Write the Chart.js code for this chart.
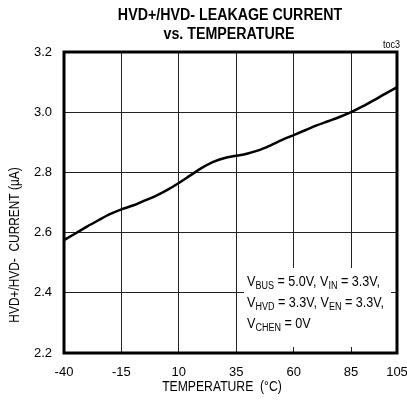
<!DOCTYPE html>
<html>
<head>
<meta charset="UTF-8">
<title>HVD+/HVD- Leakage Current vs. Temperature</title>
<script src="https://cdn.jsdelivr.net/npm/chart.js"></script>
<style>
  html, body { margin: 0; padding: 0; background: #fff; }
  #chart { display: block; }
</style>
</head>
<body>
<canvas id="chart" width="407" height="414"></canvas>
<script>
const temps = [-40, -35, -30, -25, -20, -15, -10, -5, 0, 5, 10, 15, 20, 25, 30, 35,
               40, 45, 50, 55, 60, 65, 70, 75, 80, 85, 90, 95, 100, 105];
const current = [2.575, 2.597, 2.620, 2.641, 2.661, 2.677, 2.690, 2.706, 2.722, 2.742,
                 2.765, 2.790, 2.815, 2.835, 2.848, 2.855, 2.863, 2.874, 2.890, 2.908,
                 2.924, 2.940, 2.956, 2.970, 2.984, 3.000, 3.019, 3.040, 3.062, 3.083];
const xTicks = [-40, -15, 10, 35, 60, 85, 105];
const yTicks = [2.2, 2.4, 2.6, 2.8, 3.0, 3.2];

const FONT = '"Liberation Sans", Arial, sans-serif';

// runs of [text, isSubscript]
const noteLines = [
  [['V', 0], ['BUS', 1], [' = 5.0V, V', 0], ['IN', 1], [' = 3.3V,', 0]],
  [['V', 0], ['HVD', 1], [' = 3.3V, V', 0], ['EN', 1], [' = 3.3V,', 0]],
  [['V', 0], ['CHEN', 1], [' = 0V', 0]]
];

// the original uses a narrow face, so squeeze the text horizontally
function narrowText(ctx, text, x, y, f) {
  ctx.save();
  ctx.translate(x, y);
  ctx.scale(f, 1);
  ctx.fillText(text, 0, 0);
  ctx.restore();
}

const decorPlugin = {
  id: 'decor',
  beforeDatasetsDraw(chart) {
    const {ctx, chartArea: a} = chart;
    ctx.save();
    ctx.fillStyle = '#fff';
    ctx.fillRect(a.left + 180, a.top + 216, 147, 79);
    ctx.fillStyle = '#000';
    ctx.textBaseline = 'alphabetic';
    ctx.textAlign = 'left';
    const f = 0.9;
    noteLines.forEach((runs, i) => {
      let x = a.left + 183;
      const y = a.top + 234 + i * 21;
      runs.forEach(([t, sub]) => {
        ctx.font = (sub ? '10px ' : '14px ') + FONT;
        narrowText(ctx, t, x, sub ? y + 3 : y, f);
        x += ctx.measureText(t).width * f;
      });
    });
    ctx.restore();
  },
  afterDraw(chart) {
    const {ctx, chartArea: a} = chart;
    ctx.save();
    ctx.strokeStyle = '#000';
    ctx.lineWidth = 3;
    ctx.strokeRect(a.left, a.top, a.right - a.left, a.bottom - a.top);

    ctx.fillStyle = '#000';
    ctx.textAlign = 'center';
    ctx.textBaseline = 'middle';
    ctx.font = 'bold 16px ' + FONT;
    narrowText(ctx, 'HVD+/HVD- LEAKAGE CURRENT', 230, 16, 0.89);
    narrowText(ctx, 'vs. TEMPERATURE', 229, 35, 0.89);

    ctx.font = '14px ' + FONT;
    narrowText(ctx, 'TEMPERATURE  (°C)', 222, 387, 0.87);
    ctx.save();
    ctx.translate(15, 245);
    ctx.rotate(-Math.PI / 2);
    narrowText(ctx, 'HVD+/HVD-  CURRENT (µA)', 0, 0, 0.85);
    ctx.restore();

    ctx.font = '10px ' + FONT;
    ctx.textAlign = 'right';
    narrowText(ctx, 'toc3', 400, 45, 0.9);
    ctx.restore();
  }
};

new Chart(document.getElementById('chart'), {
  type: 'line',
  data: {
    datasets: [{
      data: temps.map((t, i) => ({x: t, y: current[i]})),
      borderColor: '#000',
      borderWidth: 2.5,
      pointRadius: 0,
      cubicInterpolationMode: 'monotone',
      fill: false
    }]
  },
  options: {
    responsive: false,
    animation: false,
    layout: {padding: {top: 52, right: 10, left: 0, bottom: 0}},
    plugins: {legend: {display: false}, tooltip: {enabled: false}, title: {display: false}},
    scales: {
      x: {
        type: 'linear',
        min: -40,
        max: 105,
        afterBuildTicks(scale) { scale.ticks = xTicks.map(v => ({value: v})); },
        afterFit(scale) {
          scale.height = 61;
          scale.paddingLeft = 0;
          scale.paddingRight = 0;
        },
        grid: {color: '#222', lineWidth: 1, drawTicks: false},
        border: {display: false},
        ticks: {color: '#000', padding: 12, font: {family: FONT, size: 13}, maxRotation: 0,
                callback: v => String(v)}
      },
      y: {
        type: 'linear',
        min: 2.2,
        max: 3.2,
        afterBuildTicks(scale) { scale.ticks = yTicks.map(v => ({value: v})); },
        afterFit(scale) {
          scale.width = 64;
          scale.paddingTop = 0;
          scale.paddingBottom = 0;
        },
        grid: {color: '#222', lineWidth: 1, drawTicks: false},
        border: {display: false},
        ticks: {color: '#000', padding: 12, font: {family: FONT, size: 13},
                callback: v => v.toFixed(1)}
      }
    }
  },
  plugins: [decorPlugin]
});
</script>
</body>
</html>
